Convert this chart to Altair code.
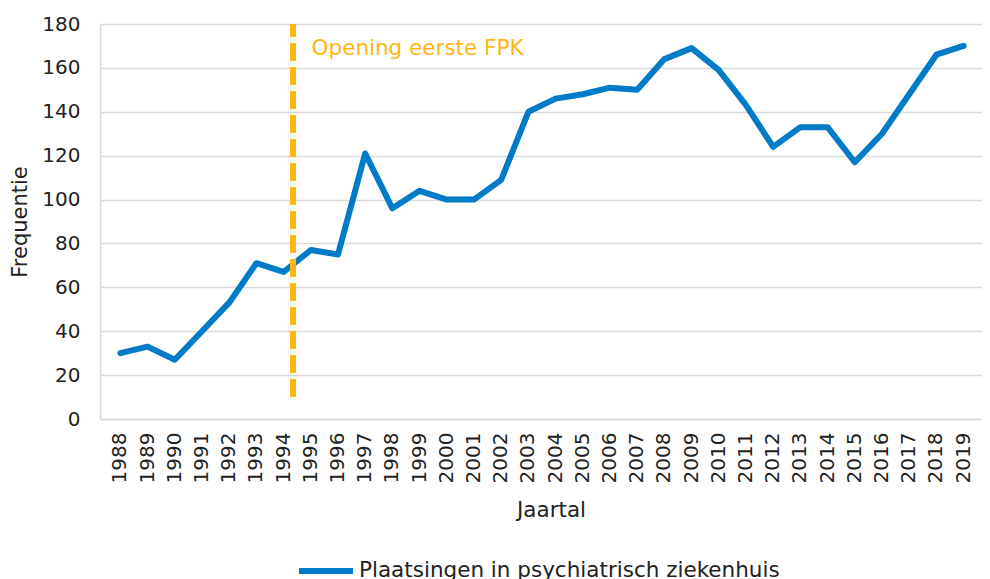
import altair as alt
import pandas as pd

years = [str(y) for y in range(1988, 2020)]
values = [30, 33, 27, 40, 53, 71, 67, 77, 75, 121, 96, 104, 100, 100, 109, 140,
          146, 148, 151, 150, 164, 169, 159, 143, 124, 133, 133, 117, 130, 148, 166, 170]
series_name = "Plaatsingen in psychiatrisch ziekenhuis"
y_ticks = [0, 20, 40, 60, 80, 100, 120, 140, 160, 180]

marker_year = ["1994"]
marker_from = [10]
marker_to = [180]
marker_label = ["Opening eerste FPK"]

BLUE = "#007BC7"
ORANGE = "#FFB612"
GRID = "#D9D9D9"
TEXT = "#222222"
FONT = "DejaVu Sans"
WORD_SIZE = 21.5

df = pd.DataFrame({"Jaartal": years, "Frequentie": values, "serie": [series_name] * len(years)})
mk = pd.DataFrame({"Jaartal": marker_year, "y0": marker_from, "y1": marker_to, "label": marker_label})

xscale = alt.Scale(domain=years, range=[0, 884], padding=0.5)
yscale = alt.Scale(domain=[0, 180], nice=False)

x_enc = alt.X("Jaartal:O", scale=xscale, sort=years,
              axis=alt.Axis(title="Jaartal", labelAngle=270, labelFontSize=20, labelFont=FONT,
                            labelColor=TEXT, labelPadding=13, ticks=False, grid=False,
                            domainColor=GRID, domainWidth=1.5,
                            titleFontSize=WORD_SIZE, titleFont=FONT, titleColor=TEXT,
                            titleFontWeight="normal", titleX=451, titleY=97,
                            titleBaseline="alphabetic"))

line = alt.Chart(df).mark_line(strokeWidth=6, strokeCap="round", strokeJoin="round").encode(
    x=x_enc,
    y=alt.Y("Frequentie:Q", scale=yscale,
            axis=alt.Axis(title="Frequentie", values=y_ticks, labelFontSize=20, labelFont=FONT,
                          labelColor=TEXT, labelPadding=20, ticks=False, gridColor=GRID, gridWidth=1.5,
                          domainColor=GRID, domainWidth=1.5,
                          titleFontSize=21, titleFont=FONT, titleColor=TEXT,
                          titleFontWeight="normal", titleX=-80, titleY=197.5,
                          titleBaseline="middle")),
    color=alt.Color("serie:N", scale=alt.Scale(domain=[series_name], range=[BLUE]),
                    legend=alt.Legend(title=None, orient="none", legendX=196, legendY=517,
                                      direction="horizontal", symbolType="stroke", symbolSize=2916,
                                      symbolStrokeWidth=6, labelFontSize=WORD_SIZE, labelFont=FONT,
                                      labelColor=TEXT, labelOffset=3, padding=0, labelLimit=600)),
)

rule = alt.Chart(mk).mark_rule(color=ORANGE, strokeWidth=6, strokeDash=[18, 6], xOffset=9.4).encode(
    x=alt.X("Jaartal:O", scale=xscale, sort=years),
    y=alt.Y("y0:Q", scale=yscale),
    y2="y1:Q",
)

label = alt.Chart(mk).mark_text(color=ORANGE, fontSize=WORD_SIZE, font=FONT, align="left",
                                baseline="alphabetic", dx=28, dy=30.5).encode(
    x=alt.X("Jaartal:O", scale=xscale, sort=years),
    y=alt.Y("y1:Q", scale=yscale),
    text="label:N",
)

chart = alt.layer(line, rule, label).properties(
    width=882, height=395,
    autosize=alt.AutoSizeParams(type="none"),
    padding={"left": 92, "top": 16, "right": 0, "bottom": 160},
).configure_view(stroke=None).configure(background="white")

chart.save("out.html", embed_options={"renderer": "svg", "actions": False})
